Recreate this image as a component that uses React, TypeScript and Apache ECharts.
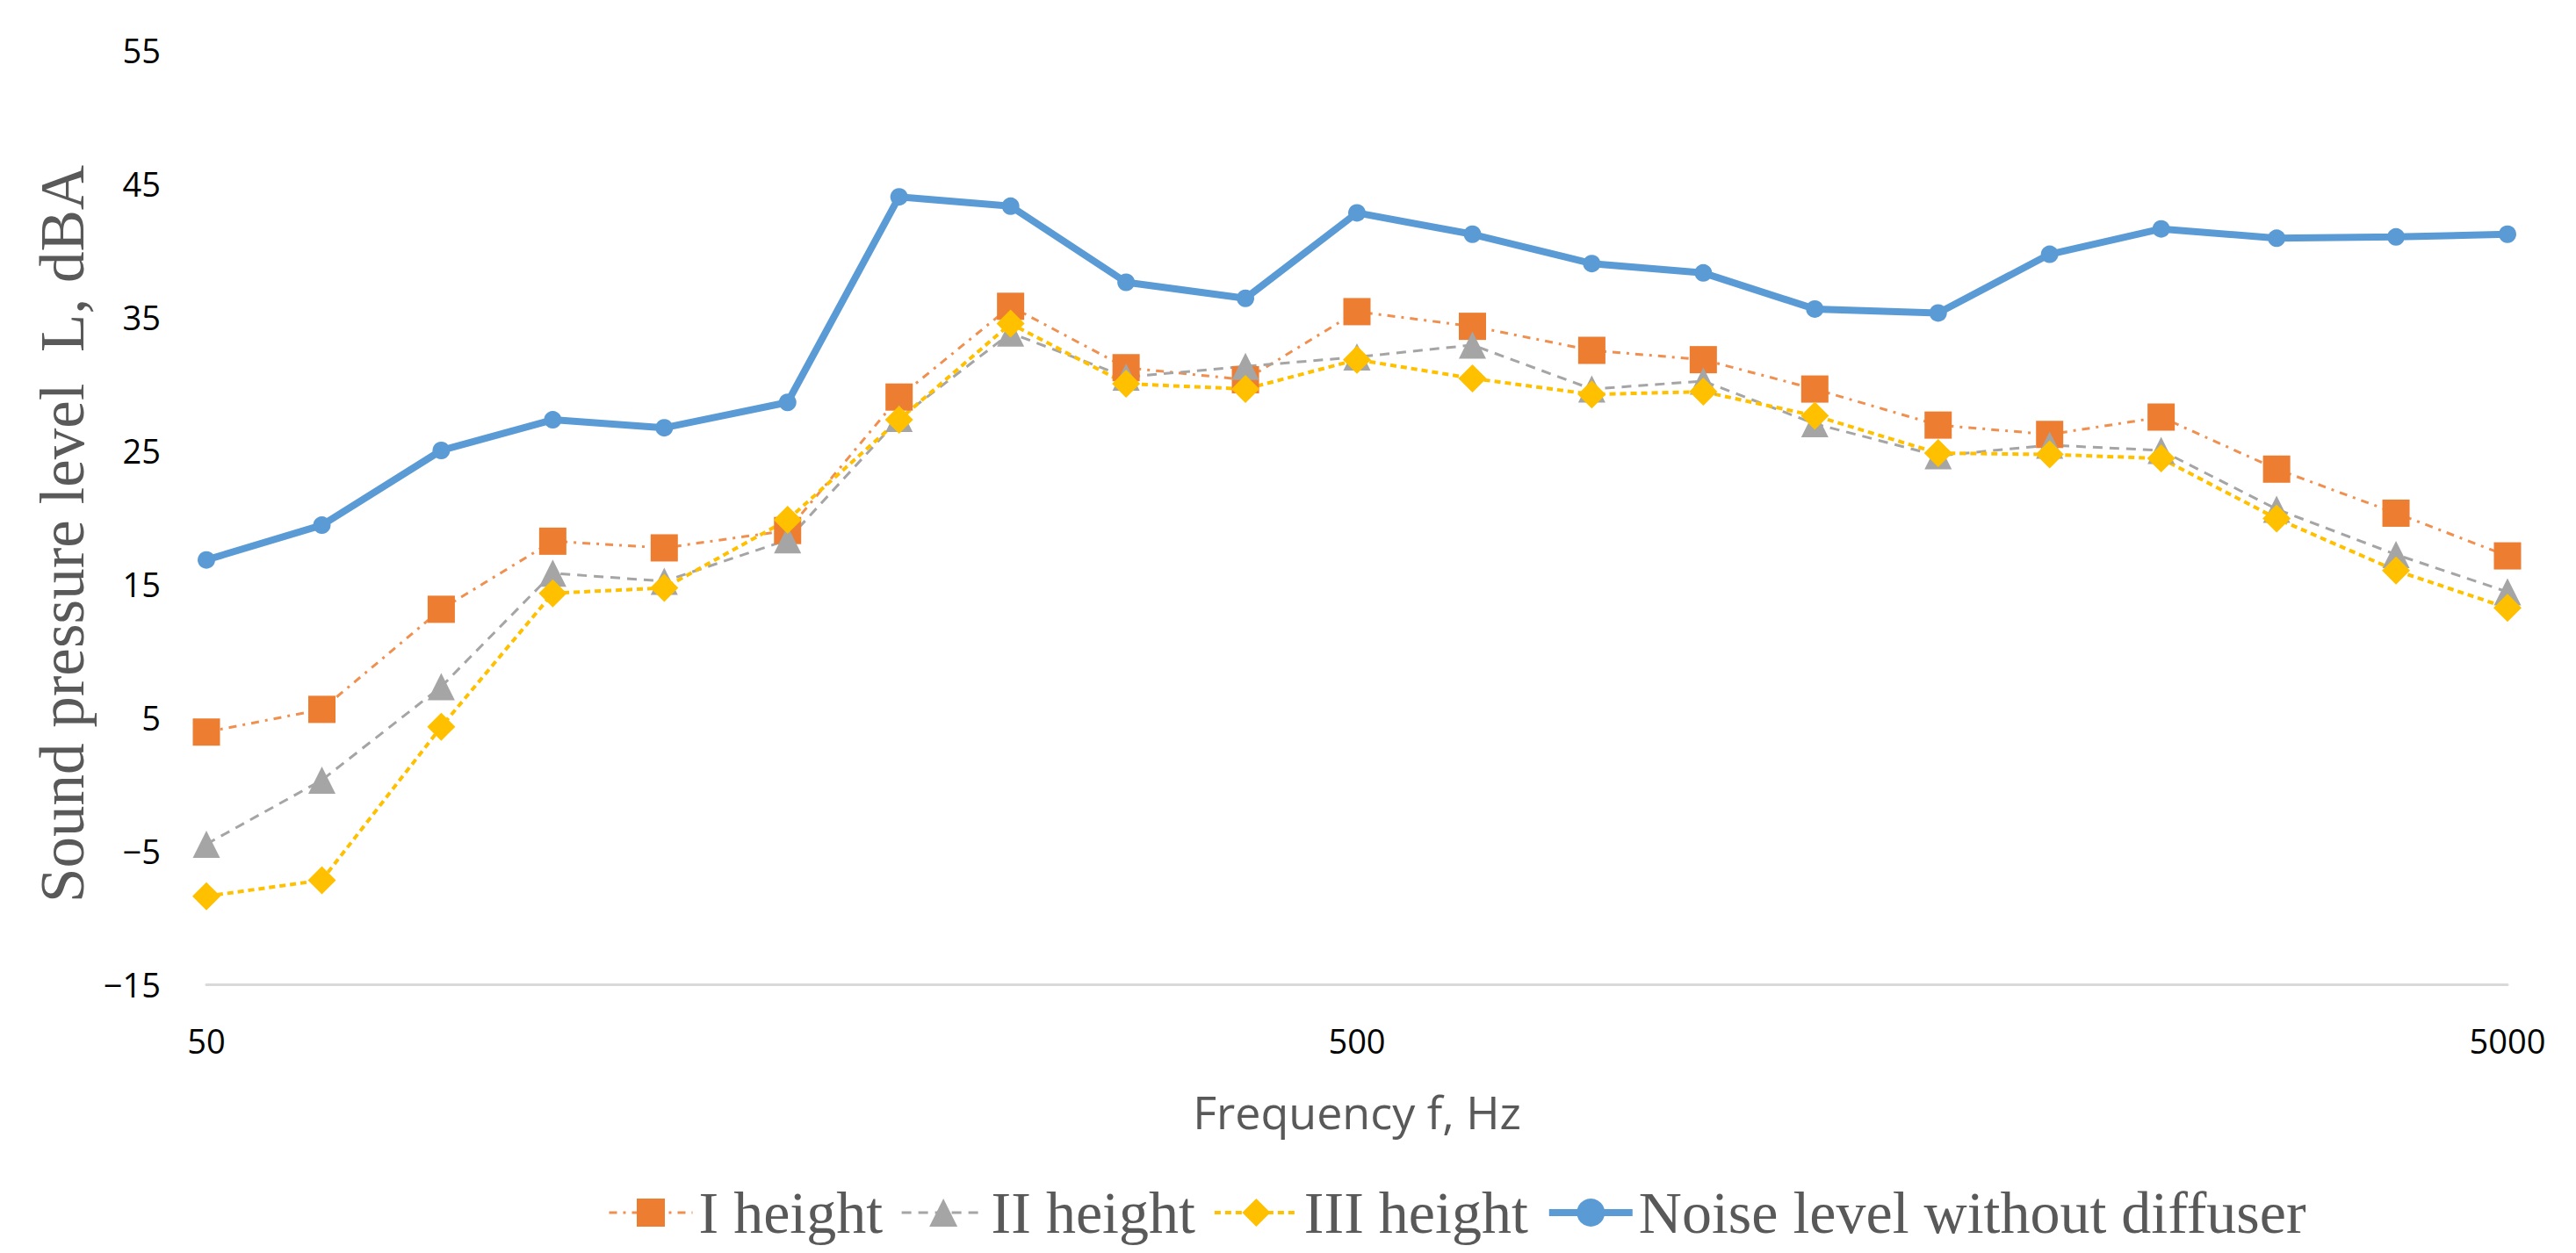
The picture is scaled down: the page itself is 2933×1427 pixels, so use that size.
import React, { useEffect, useRef } from "react";
import * as echarts from "echarts";

const freqs = [50, 63, 80, 100, 125, 160, 200, 250, 315, 400, 500, 630, 800, 1000, 1250, 1600, 2000, 2500, 3150, 4000, 5000];
const heightI = [3.9, 5.6, 13.1, 18.2, 17.7, 19.0, 29.0, 35.8, 31.2, 30.3, 35.4, 34.3, 32.5, 31.8, 29.6, 26.9, 26.2, 27.5, 23.6, 20.3, 17.1];
const heightII = [-4.5, 0.3, 7.3, 15.8, 15.2, 18.3, 27.4, 33.8, 30.5, 31.3, 32.0, 32.9, 29.6, 30.2, 27.0, 24.6, 25.4, 25.0, 20.6, 17.2, 14.4];
const heightIII = [-8.4, -7.2, 4.3, 14.3, 14.7, 19.8, 27.3, 34.5, 30.0, 29.6, 31.8, 30.4, 29.2, 29.4, 27.6, 24.8, 24.7, 24.4, 19.9, 16.0, 13.2];
const noise = [16.8, 19.4, 25.0, 27.3, 26.7, 28.6, 44.0, 43.3, 37.6, 36.4, 42.8, 41.2, 39.0, 38.3, 35.6, 35.3, 39.7, 41.6, 40.9, 41.0, 41.2];

const seriesNames = ["I height", "II height", "III height", "Noise level without diffuser"];
const xTickLabels = [50, 500, 5000];
const yMin = -15;
const yMax = 55;
const yStep = 10;

const pairs = (vals: number[]) => freqs.map((f, i) => [f, vals[i]]);

export default function App() {
  const ref = useRef<HTMLDivElement>(null);
  useEffect(() => {
    document.body.style.margin = "0";
    const chart = echarts.init(ref.current!, null, { renderer: "svg" });
    const sansLabel = { fontFamily: "Open Sans", fontSize: 38, color: "#000000" };
    const lineStyles = [
      { color: "#ED7D31", width: 3, type: [9, 7, 3, 7], opacity: 0.85 },
      { color: "#A5A5A5", width: 3, type: [11, 8] },
      { color: "#FFC000", width: 4, type: [7, 5] },
      { color: "#5B9BD5", width: 8, type: "solid" },
    ];
    chart.setOption({
      animation: false,
      backgroundColor: "#ffffff",
      grid: { left: 235, right: 78, top: 57, bottom: 306, containLabel: false },
      legend: {
        left: 687,
        top: 1342,
        itemWidth: 95,
        itemHeight: 40,
        itemGap: 20,
        data: seriesNames.map((n, i) => ({ name: n, lineStyle: { width: lineStyles[i].width } })),
        textStyle: {
          fontFamily: "Liberation Serif",
          fontSize: 68,
          color: "#595959",
          padding: [0, 0, 0, 2],
        },
      },
      xAxis: {
        type: "log",
        logBase: 10,
        min: 50,
        max: 5000,
        name: "Frequency f, Hz",
        nameLocation: "middle",
        nameGap: 118,
        nameTextStyle: { fontFamily: "Open Sans", fontSize: 52, color: "#595959", lineHeight: 52 },
        axisLine: { show: true, onZero: false, lineStyle: { color: "#D9D9D9", width: 3 } },
        axisTick: { show: false },
        minorTick: { show: false },
        splitLine: { show: false },
        axisLabel: {
          ...sansLabel,
          lineHeight: 38,
          margin: 45,
          customValues: xTickLabels,
          formatter: (v: number) => String(Math.round(v)),
        },
      },
      yAxis: {
        type: "value",
        min: yMin,
        max: yMax,
        interval: yStep,
        name: "Sound pressure level\u00a0\u00a0L, dBA",
        nameLocation: "middle",
        nameGap: 125,
        nameTextStyle: {
          fontFamily: "Liberation Serif",
          fontSize: 71,
          color: "#595959",
          lineHeight: 71,
          padding: [0, 38, 0, 0],
        },
        axisLine: { show: false },
        axisTick: { show: false },
        splitLine: { show: false },
        axisLabel: {
          ...sansLabel,
          margin: 52,
          formatter: (v: number) => String(Math.round(v)).replace("-", "\u2212"),
        },
      },
      series: [
        {
          name: seriesNames[0],
          type: "line",
          data: pairs(heightI),
          symbol: "rect",
          symbolSize: 31,
          itemStyle: { color: "#ED7D31" },
          lineStyle: lineStyles[0],
        },
        {
          name: seriesNames[1],
          type: "line",
          data: pairs(heightII),
          symbol: "triangle",
          symbolSize: 31,
          itemStyle: { color: "#A5A5A5" },
          lineStyle: lineStyles[1],
        },
        {
          name: seriesNames[2],
          type: "line",
          data: pairs(heightIII),
          symbol: "diamond",
          symbolSize: 32,
          itemStyle: { color: "#FFC000" },
          lineStyle: lineStyles[2],
        },
        {
          name: seriesNames[3],
          type: "line",
          data: pairs(noise),
          symbol: "circle",
          symbolSize: 20,
          itemStyle: { color: "#5B9BD5" },
          lineStyle: lineStyles[3],
        },
      ],
    });
    return () => chart.dispose();
  }, []);
  return <div ref={ref} style={{ width: 2933, height: 1427 }} />;
}
